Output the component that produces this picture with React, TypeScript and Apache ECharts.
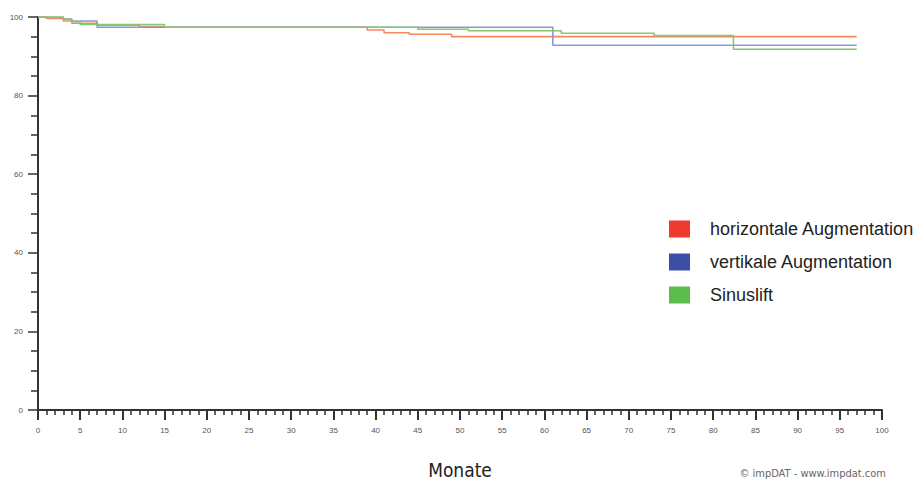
import React, { useEffect, useRef } from "react";
import * as echarts from "echarts";

const seriesNames = ["horizontale Augmentation", "vertikale Augmentation", "Sinuslift"];
const legendColors = ["#ee3a2f", "#3b4fa6", "#5cbd4d"];
const lineColors = ["#f28a5e", "#8d97cf", "#84c96e"];

// [month, survival %]
const horizontal: [number, number][] = [
  [0, 100], [1, 99.6], [3, 99.0], [4, 98.4], [7, 97.9], [12, 97.6], [15, 97.4],
  [39, 96.7], [41, 96.0], [44, 95.6], [49, 95.0], [97, 95.0],
];
const vertical: [number, number][] = [
  [0, 100], [3, 99.5], [4, 99.0], [7, 97.4], [61, 92.8], [97, 92.8],
];
const sinuslift: [number, number][] = [
  [0, 100], [3, 99.5], [4, 98.8], [5, 98.1], [15, 97.4], [45, 96.9], [51, 96.5],
  [62, 95.85], [73, 95.3], [82.4, 91.8], [97, 91.8],
];
const seriesData = [horizontal, vertical, sinuslift];

const xMin = 0, xMax = 100, xInterval = 5;
const yMin = 0, yMax = 100, yInterval = 20;

export default function App() {
  const ref = useRef<HTMLDivElement>(null);
  useEffect(() => {
    if (!ref.current) return;
    const chart = echarts.init(ref.current, undefined, { renderer: "svg" });
    const tickFont = { fontSize: 8, color: "#555", fontFamily: "'Liberation Sans', Arial, sans-serif" };
    chart.setOption({
      animation: false,
      backgroundColor: "#ffffff",
      grid: { left: 38, right: 33, top: 17, bottom: 72, containLabel: false, outerBoundsMode: "none" },
      legend: {
        orient: "vertical",
        left: 664,
        top: 215,
        itemWidth: 21,
        itemHeight: 17,
        itemGap: 15,
        icon: "rect",
        textStyle: {
          fontSize: 18,
          lineHeight: 17,
          color: "#222",
          fontFamily: "'Liberation Sans', Arial, sans-serif",
          padding: [0, 0, 0, 15],
        },
        data: seriesNames.map((n, i) => ({ name: n, icon: "rect", itemStyle: { color: legendColors[i] } })),
      },
      xAxis: {
        type: "value",
        min: xMin,
        max: xMax,
        interval: xInterval,
        name: "Monate",
        nameLocation: "middle",
        nameGap: 50,
        nameTextStyle: {
          fontSize: 19,
          lineHeight: 19,
          color: "#222",
          fontWeight: 500,
          fontFamily: "'DejaVu Sans Condensed', 'Liberation Sans Narrow', sans-serif",
        },
        axisLine: { show: true, lineStyle: { color: "#333", width: 2 } },
        axisTick: { show: true, length: 10, lineStyle: { color: "#333", width: 2 } },
        minorTick: { show: true, splitNumber: 5, length: 5, lineStyle: { color: "#333", width: 1.5 } },
        axisLabel: { ...tickFont, margin: 16 },
        splitLine: { show: false },
      },
      yAxis: {
        type: "value",
        min: yMin,
        max: yMax,
        interval: yInterval,
        axisLine: { show: true, lineStyle: { color: "#333", width: 2 } },
        axisTick: { show: true, length: 10, lineStyle: { color: "#333", width: 1.5 } },
        minorTick: { show: true, splitNumber: 4, length: 7, lineStyle: { color: "#333", width: 1.5 } },
        axisLabel: { ...tickFont, margin: 15 },
        splitLine: { show: false },
      },
      graphic: [
        {
          type: "text",
          right: 29,
          top: 468,
          style: {
            text: "© impDAT - www.impdat.com",
            fontSize: 11,
            fill: "#666",
            fontFamily: "'DejaVu Sans Condensed', 'Liberation Sans Narrow', sans-serif",
          },
        },
      ],
      series: seriesNames.map((n, i) => ({
        name: n,
        type: "line",
        step: "end",
        symbol: "none",
        data: seriesData[i],
        itemStyle: { color: legendColors[i] },
        lineStyle: { color: lineColors[i], width: 1.6 },
      })),
    });
    return () => chart.dispose();
  }, []);
  return <div ref={ref} style={{ position: "fixed", left: 0, top: 0, width: 915, height: 482 }} />;
}
